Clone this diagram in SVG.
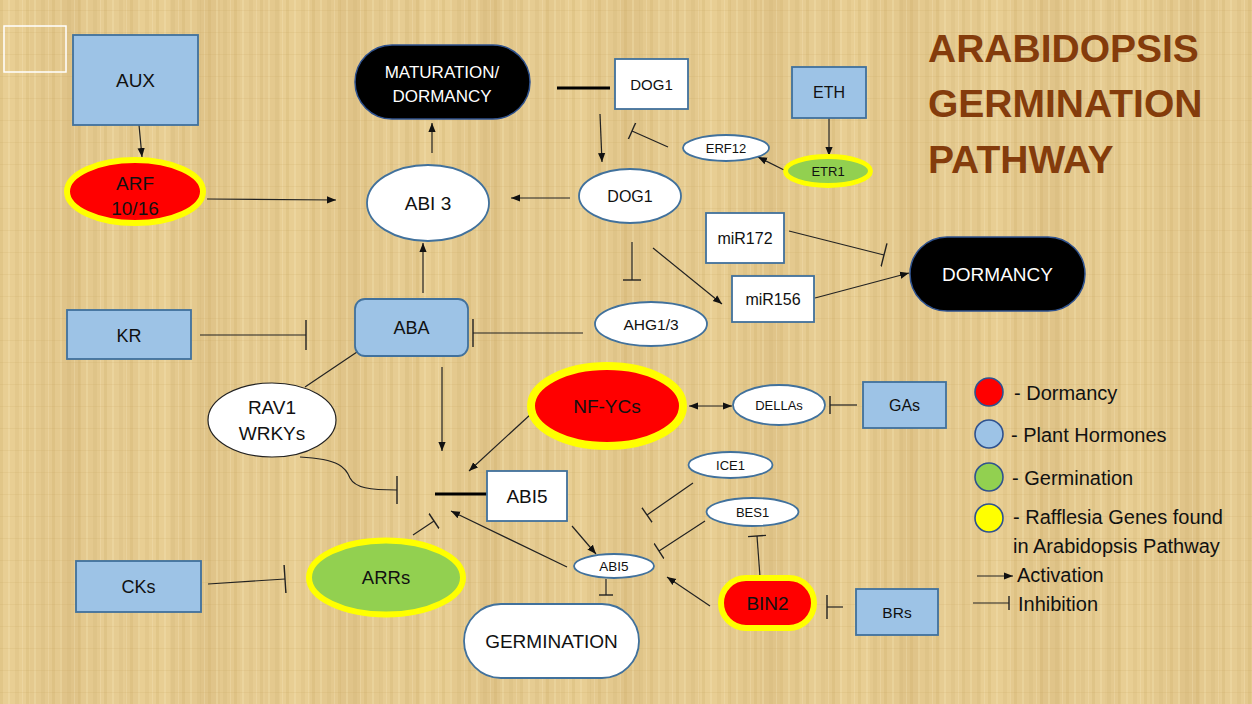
<svg xmlns="http://www.w3.org/2000/svg" width="1252" height="704" viewBox="0 0 1252 704">
<defs>
<pattern id="pap" width="26" height="22" patternUnits="userSpaceOnUse">
<rect x="0" y="0" width="3" height="22" fill="#c9a661" opacity="0.22"/>
<rect x="8" y="0" width="2" height="22" fill="#f4e2b0" opacity="0.35"/>
<rect x="15" y="0" width="4" height="22" fill="#cfae6c" opacity="0.2"/>
<rect x="22" y="0" width="1" height="22" fill="#f6e6bb" opacity="0.3"/>
<rect x="0" y="10" width="26" height="1" fill="#caa865" opacity="0.18"/>
</pattern>
<pattern id="pap2" width="140" height="704" patternUnits="userSpaceOnUse">
<rect x="0" y="0" width="30" height="704" fill="#f2dca4" opacity="0.25"/>
<rect x="60" y="0" width="20" height="704" fill="#cba768" opacity="0.15"/>
<rect x="100" y="0" width="25" height="704" fill="#f0d89e" opacity="0.2"/>
</pattern>
<marker id="arr" viewBox="0 0 10 10" refX="10" refY="5" markerWidth="9" markerHeight="9" orient="auto-start-reverse" markerUnits="userSpaceOnUse"><path d="M0,1 L10,5 L0,9 z" fill="#111"/></marker>
<marker id="t7" viewBox="-2 -7 4 14" refX="0" refY="0" markerWidth="4" markerHeight="14" orient="auto" markerUnits="userSpaceOnUse"><path d="M0,-7V7" stroke="#222" stroke-width="1.4"/></marker>
<marker id="t9" viewBox="-2 -9 4 18" refX="0" refY="0" markerWidth="4" markerHeight="18" orient="auto" markerUnits="userSpaceOnUse"><path d="M0,-9V9" stroke="#222" stroke-width="1.4"/></marker>
<marker id="t12" viewBox="-2 -12 4 24" refX="0" refY="0" markerWidth="4" markerHeight="24" orient="auto" markerUnits="userSpaceOnUse"><path d="M0,-12V12" stroke="#222" stroke-width="1.4"/></marker>
<marker id="t14" viewBox="-2 -14 4 28" refX="0" refY="0" markerWidth="4" markerHeight="28" orient="auto" markerUnits="userSpaceOnUse"><path d="M0,-14V14" stroke="#222" stroke-width="1.4"/></marker>
<marker id="t15" viewBox="-2 -15 4 30" refX="0" refY="0" markerWidth="4" markerHeight="30" orient="auto" markerUnits="userSpaceOnUse"><path d="M0,-15V15" stroke="#222" stroke-width="1.4"/></marker>
</defs>
<style>
text{font-family:"Liberation Sans",Arial,sans-serif;fill:#111;text-anchor:middle}
.hor{fill:#9DC3E6;stroke:#41719C;stroke-width:1.8}
.wht{fill:#ffffff;stroke:#41719C;stroke-width:1.8}
.blk{fill:#000000;stroke:#2F528F;stroke-width:1.5}
.red{fill:#FF0000;stroke:#FFFF00}
.grn{fill:#92D050;stroke:#FFFF00}
.wt{fill:#ffffff}
.ln{fill:none;stroke:#222;stroke-width:1.2}
.thick{fill:none;stroke:#000;stroke-width:3}
.a{marker-end:url(#arr)}
.title{font-weight:bold;fill:#843C0C;font-size:39px;text-anchor:start}
.leg{font-size:20px;text-anchor:start}
.lc{stroke:#2F528F;stroke-width:1.6}
</style>
<rect x="0" y="0" width="1252" height="704" fill="#E4C98E"/>
<rect x="0" y="0" width="1252" height="704" fill="url(#pap2)"/>
<rect x="0" y="0" width="1252" height="704" fill="url(#pap)"/>
<rect x="4" y="26" width="62" height="46" fill="none" stroke="#ffffff" stroke-width="1.5"/>

<g id="title">
<text class="title" x="928" y="62">ARABIDOPSIS</text>
<text class="title" x="928" y="117">GERMINATION</text>
<text class="title" x="928" y="173">PATHWAY</text>
</g>

<g id="connectors">
<path class="ln a" d="M139,125 L142,157"/>
<path class="ln a" d="M207,199 L336,200"/>
<path class="ln a" d="M432,153 L432,123"/>
<path class="thick" d="M557,88 L610,88"/>
<path class="ln a" d="M600,114 L602,162"/>
<path class="ln a" d="M570,198 L511,198"/>
<path class="ln" marker-end="url(#t9)" d="M668,147 L632,131"/>
<path class="ln a" d="M829,118 L829,156"/>
<path class="ln a" d="M784,170 L758,157"/>
<path class="ln" marker-end="url(#t9)" d="M632,242 L632,280"/>
<path class="ln a" d="M653,248 L722,304"/>
<path class="ln" marker-end="url(#t12)" d="M789,231 L884,255"/>
<path class="ln a" d="M815,298 L909,273"/>
<path class="ln a" d="M423,293 L423,243"/>
<path class="ln" marker-end="url(#t15)" d="M200,335 L306,335"/>
<path class="ln" marker-end="url(#t14)" d="M583,333 L473,333"/>
<path class="ln" d="M357,352 L305,387"/>
<path class="ln" marker-end="url(#t14)" d="M300,457 C340,459 346,468 350,478 C355,488 370,490 397,490"/>
<path class="ln a" d="M442,367 L442,451"/>
<path class="ln a" d="M531,414 L469,471"/>
<path class="thick" d="M435,494 L487,494"/>
<path class="ln a" d="M572,526 L596,554"/>
<path class="ln a" d="M567,567 L451,511"/>
<path class="ln" marker-end="url(#t7)" d="M606,579 L606,595"/>
<path class="ln" marker-end="url(#t9)" d="M413,535 L434,521"/>
<path class="ln" marker-end="url(#t14)" d="M208,584 L285,579"/>
<path class="ln a" marker-start="url(#arr)" d="M689,406 L732,406"/>
<path class="ln" marker-end="url(#t9)" d="M857,405 L830,405"/>
<path class="ln" marker-end="url(#t9)" d="M693,483 L647,515"/>
<path class="ln" marker-end="url(#t9)" d="M705,521 L659,551"/>
<path class="ln" marker-end="url(#t9)" d="M760,577 L757,536"/>
<path class="ln a" d="M710,606 L667,577"/>
<path class="ln" marker-end="url(#t12)" d="M843,607 L827,607"/>
</g>

<g id="AUX"><rect class="hor" x="73" y="35" width="125" height="90"/><text x="135.5" y="87" font-size="19">AUX</text></g>
<g id="ARF"><ellipse class="red" cx="135" cy="191.5" rx="68" ry="31.5" stroke-width="6"/><text x="135" y="190" font-size="19">ARF</text><text x="135" y="215" font-size="19">10/16</text></g>
<g id="ABI3"><ellipse class="wht" cx="428" cy="203" rx="61" ry="38"/><text x="428" y="210" font-size="19">ABI 3</text></g>
<g id="MATURATION"><rect class="blk" x="355" y="45" width="175" height="74" rx="37"/><text class="wt" x="442" y="78" font-size="17">MATURATION/</text><text class="wt" x="442" y="102" font-size="17">DORMANCY</text></g>
<g id="DOG1box"><rect class="wht" x="615" y="59" width="73" height="50"/><text x="651.5" y="90" font-size="15">DOG1</text></g>
<g id="DOG1"><ellipse class="wht" cx="630" cy="196" rx="51" ry="27"/><text x="630" y="202" font-size="16">DOG1</text></g>
<g id="ERF12"><ellipse class="wht" cx="726" cy="148" rx="43" ry="13"/><text x="726" y="152.5" font-size="13">ERF12</text></g>
<g id="ETH"><rect class="hor" x="792" y="67" width="74" height="51"/><text x="829" y="98" font-size="16">ETH</text></g>
<g id="ETR1"><ellipse class="grn" cx="828" cy="171" rx="42.5" ry="14.5" stroke-width="5"/><text x="828" y="175.5" font-size="13">ETR1</text></g>
<g id="miR172"><rect class="wht" x="706" y="213" width="78" height="50"/><text x="745" y="244" font-size="16">miR172</text></g>
<g id="miR156"><rect class="wht" x="732" y="276" width="82" height="46"/><text x="773" y="305" font-size="16">miR156</text></g>
<g id="DORMANCY"><rect class="blk" x="910" y="237" width="175" height="74" rx="37"/><text class="wt" x="997.5" y="281" font-size="19">DORMANCY</text></g>
<g id="AHG13"><ellipse class="wht" cx="651" cy="324" rx="56" ry="22"/><text x="651" y="329.5" font-size="15.5">AHG1/3</text></g>
<g id="ABA"><rect class="hor" x="355" y="299" width="113" height="57" rx="10"/><text x="411.5" y="334" font-size="18">ABA</text></g>
<g id="KR"><rect class="hor" x="67" y="310" width="124" height="49"/><text x="129" y="341.5" font-size="18">KR</text></g>
<g id="RAV1"><ellipse cx="272" cy="420" rx="64" ry="37" fill="#ffffff" stroke="#222" stroke-width="1.2"/><text x="272" y="414" font-size="19">RAV1</text><text x="272" y="440" font-size="19">WRKYs</text></g>
<g id="NFYCs"><ellipse class="red" cx="607" cy="406" rx="76" ry="40" stroke-width="8"/><text x="607" y="413" font-size="19">NF-YCs</text></g>
<g id="DELLAs"><ellipse class="wht" cx="779" cy="405" rx="46" ry="20"/><text x="779" y="409.5" font-size="13">DELLAs</text></g>
<g id="GAs"><rect class="hor" x="863" y="382" width="83" height="46"/><text x="904.5" y="410.5" font-size="16">GAs</text></g>
<g id="ICE1"><ellipse class="wht" cx="730.5" cy="465" rx="42" ry="13"/><text x="730.5" y="469.5" font-size="13">ICE1</text></g>
<g id="BES1"><ellipse class="wht" cx="752.5" cy="512" rx="46" ry="14"/><text x="752.5" y="516.5" font-size="13">BES1</text></g>
<g id="ABI5box"><rect class="wht" x="487" y="471" width="80" height="50"/><text x="527" y="503" font-size="19">ABI5</text></g>
<g id="ABI5"><ellipse class="wht" cx="614" cy="566" rx="40" ry="12"/><text x="614" y="571" font-size="13.5">ABI5</text></g>
<g id="ARRs"><ellipse class="grn" cx="386" cy="577.5" rx="77" ry="37" stroke-width="6"/><text x="386" y="584" font-size="18.5">ARRs</text></g>
<g id="CKs"><rect class="hor" x="76" y="561" width="125" height="51"/><text x="138.5" y="593" font-size="18">CKs</text></g>
<g id="GERMINATION"><rect class="wht" x="464" y="604" width="175" height="74" rx="37"/><text x="551.5" y="648" font-size="19">GERMINATION</text></g>
<g id="BIN2"><rect class="red" x="721" y="578" width="93" height="50" rx="25" stroke-width="6"/><text x="767.5" y="610" font-size="19">BIN2</text></g>
<g id="BRs"><rect class="hor" x="856" y="589" width="82" height="46"/><text x="897" y="618" font-size="15.5">BRs</text></g>

<g id="legend">
<circle class="lc" cx="989" cy="392" r="14" fill="#FF0000"/>
<text class="leg" x="1014" y="400">- Dormancy</text>
<circle class="lc" cx="989" cy="434" r="14" fill="#9DC3E6"/>
<text class="leg" x="1011" y="442">- Plant Hormones</text>
<circle class="lc" cx="989" cy="477" r="14" fill="#92D050"/>
<text class="leg" x="1012" y="485">- Germination</text>
<circle class="lc" cx="989" cy="518" r="14" fill="#FFFF00"/>
<text class="leg" x="1013" y="524">- Rafflesia Genes found</text>
<text class="leg" x="1013" y="553">in Arabidopsis Pathway</text>
<path class="ln a" d="M977,576 L1013,576"/>
<text class="leg" x="1017" y="582">Activation</text>
<path class="ln" marker-end="url(#t7)" d="M973,603 L1009,603"/>
<text class="leg" x="1018" y="611">Inhibition</text>
</g>
</svg>
